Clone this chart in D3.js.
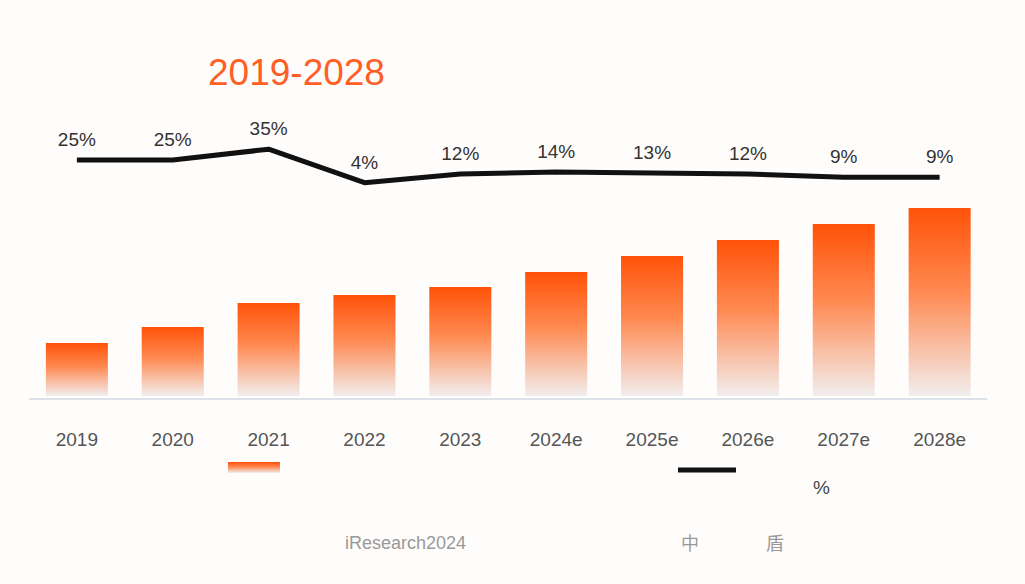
<!DOCTYPE html>
<html><head><meta charset="utf-8">
<script src="https://cdn.jsdelivr.net/npm/d3@7"></script>
<style>
html,body{margin:0;padding:0;background:#fffdfc;}
svg{display:block;}
text{font-family:"Liberation Sans",Arial,"Noto Sans CJK SC",sans-serif;}
</style></head>
<body>
<script>
const categories = ["2019","2020","2021","2022","2023","2024e","2025e","2026e","2027e","2028e"];
const barValues = [53, 69, 93, 101, 109, 124, 140, 156, 172, 188];
const growthValues = [25, 25, 35, 4, 12, 14, 13, 12, 9, 9];
const growthLabels = ["25%","25%","35%","4%","12%","14%","13%","12%","9%","9%"];
const titleText = "2019-2028";
const legendLineLabel = "%";
const sourceText = "iResearch2024";
const sourceCjk = ["中", "盾"];

const W = 1025, H = 584;
const svg = d3.select("body").append("svg").attr("width", W).attr("height", H);
svg.append("rect").attr("width", W).attr("height", H).attr("fill", "#fffdfc");

const defs = svg.append("defs");
const grad = defs.append("linearGradient").attr("id","barGrad").attr("x1",0).attr("y1",0).attr("x2",0).attr("y2",1);
grad.append("stop").attr("offset","0%").attr("stop-color","#ff5208");
grad.append("stop").attr("offset","45%").attr("stop-color","#ff8a52");
grad.append("stop").attr("offset","100%").attr("stop-color","#f2eeee");

const x = d3.scaleBand().domain(categories).range([29, 987.5]).paddingInner(0.353).paddingOuter(0.176);
const baseY = 396;
const y = d3.scaleLinear().domain([0, 200]).range([baseY, baseY - 200]);
const y2 = d3.scaleLinear().domain([0, 100]).range([187, 79]);

// title
svg.append("text").attr("x", 208).attr("y", 85).attr("fill", "#ff5f24")
  .attr("font-size", 37).text(titleText);

// axis baseline
svg.append("line").attr("x1", x.range()[0]).attr("x2", x.range()[1])
  .attr("y1", 399).attr("y2", 399).attr("stroke", "#dde3ea").attr("stroke-width", 2);

// bars
svg.selectAll("rect.bar").data(categories).enter().append("rect")
  .attr("class","bar")
  .attr("x", d => x(d)).attr("width", x.bandwidth())
  .attr("y", (d,i) => y(barValues[i])).attr("height", (d,i) => baseY - y(barValues[i]))
  .attr("fill", "url(#barGrad)");

// category labels
svg.selectAll("text.cat").data(categories).enter().append("text")
  .attr("class","cat").attr("x", d => x(d) + x.bandwidth()/2).attr("y", 446)
  .attr("text-anchor","middle").attr("font-size", 19).attr("fill", "#555")
  .text(d => d);

// growth line
const line = d3.line().x((d,i) => x(categories[i]) + x.bandwidth()/2).y(d => y2(d));
svg.append("path").datum(growthValues).attr("d", line)
  .attr("fill","none").attr("stroke","#111").attr("stroke-width", 5)
  .attr("stroke-linejoin","round").attr("stroke-linecap","butt");

svg.selectAll("text.gl").data(growthValues).enter().append("text")
  .attr("class","gl").attr("x", (d,i) => x(categories[i]) + x.bandwidth()/2)
  .attr("y", d => y2(d) - 14).attr("text-anchor","middle")
  .attr("font-size", 19).attr("fill", "#333")
  .text((d,i) => growthLabels[i]);

// legend
svg.append("rect").attr("x", 228).attr("y", 462).attr("width", 52).attr("height", 11)
  .attr("fill", "url(#barGrad)");
svg.append("line").attr("x1", 678).attr("x2", 736).attr("y1", 470).attr("y2", 470)
  .attr("stroke", "#111").attr("stroke-width", 5);
svg.append("text").attr("x", 813).attr("y", 494).attr("font-size", 19).attr("fill", "#444")
  .text(legendLineLabel);

// source
svg.append("text").attr("x", 345).attr("y", 549).attr("font-size", 18).attr("fill", "#999")
  .text(sourceText);
svg.append("text").attr("x", 681).attr("y", 550).attr("font-size", 18).attr("fill", "#999")
  .style("font-family", "'Noto Sans CJK SC'").text(sourceCjk[0]);
svg.append("text").attr("x", 766).attr("y", 550).attr("font-size", 18).attr("fill", "#999")
  .style("font-family", "'Noto Sans CJK SC'").text(sourceCjk[1]);
</script>
</body></html>
